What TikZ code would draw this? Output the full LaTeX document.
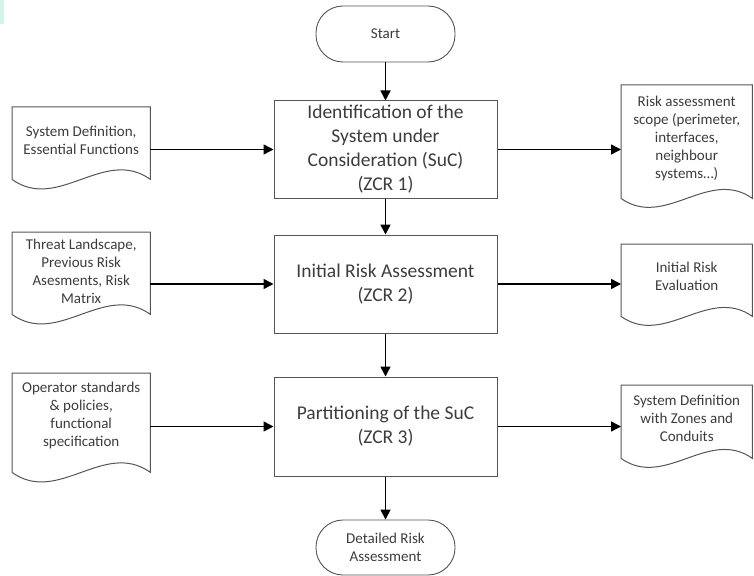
\documentclass[tikz,border=0pt]{standalone}
\usepackage{fontspec}
\setmainfont{Carlito}
\usetikzlibrary{arrows.meta,calc}
\definecolor{inkgray}{HTML}{3C3C3C}
\definecolor{edgegray}{HTML}{555555}
\definecolor{mint}{HTML}{D4F4E8}

% wavy-bottom document outline around a text node:
% #1 node name, #2 extra drop of the wave ends below the node, #3 wave control offset
\newcommand{\docoutline}[3]{%
  \draw[docline] (#1.north west) -- (#1.north east) -- ([yshift=-#2pt]#1.south east)
    .. controls ($(#1.south east)!1/3!(#1.south west)+(0pt,-#2pt+#3pt)$)
    and ($(#1.south east)!2/3!(#1.south west)+(0pt,-#2pt-#3pt)$)
    .. ([yshift=-#2pt]#1.south west) -- cycle;}

\begin{document}
\begin{tikzpicture}[x=1pt,y=-1pt,
  every node/.style={text=inkgray},
  procbox/.style={draw=edgegray, line width=1pt, minimum width=223pt,
    align=center, font=\fontsize{19.5}{24}\selectfont, inner sep=0pt},
  termbox/.style={draw=edgegray, line width=0.9pt, rounded corners=27pt,
    minimum width=139pt, align=center, font=\fontsize{15}{18}\selectfont, inner sep=0pt},
  docnode/.style={align=center, font=\fontsize{15}{18}\selectfont,
    inner sep=0pt, anchor=north west},
  docline/.style={draw=edgegray, line width=1pt},
  flow/.style={draw=black, line width=1.5pt, -{Triangle[length=10pt,width=10pt]}}
]
\useasboundingbox (0,0) rectangle (754,575);
\fill[mint] (0,0) rectangle (4,24);

% main process column
\node[termbox, minimum height=56pt] (S) at (385.5,34) {Start};
\node[procbox, minimum height=97pt] (B1) at (385.5,149.5)
  {Identification of the\\System under\\Consideration (SuC)\\(ZCR 1)};
\node[procbox, minimum height=98pt] (B2) at (385.5,284)
  {Initial Risk Assessment\\(ZCR 2)};
\node[procbox, minimum height=99pt] (B3) at (385.5,426.5)
  {Partitioning of the SuC\\(ZCR 3)};
\node[termbox, minimum height=55pt] (E) at (385.5,547.5)
  {Detailed Risk\\Assessment};

% input documents
\node[docnode, minimum width=138pt, minimum height=66pt] (L1) at (12,107)
  {System Definition,\\Essential Functions};
\node[docnode, minimum width=138pt, minimum height=78pt] (L2) at (12,232)
  {Threat Landscape,\\Previous Risk\\Asesments, Risk\\Matrix};
\node[docnode, minimum width=138pt, minimum height=85pt] (L3) at (12,373)
  {Operator standards\\\& policies,\\functional\\specification};

% output documents
\node[docnode, minimum width=131pt, minimum height=107pt] (R1) at (621,85)
  {Risk assessment\\scope (perimeter,\\interfaces,\\neighbour\\systems…)};
\node[docnode, minimum width=131pt, minimum height=64pt] (R2) at (621,244)
  {Initial Risk\\Evaluation};
\node[docnode, minimum width=131pt, minimum height=66pt] (R3) at (621,385)
  {System Definition\\with Zones and\\Conduits};

\docoutline{L1}{6}{33}
\docoutline{L2}{4}{33}
\docoutline{L3}{14}{33}
\docoutline{R1}{6}{31}
\docoutline{R2}{8}{31}
\docoutline{R3}{7}{31}

% connectors
\draw[flow] (S) -- (B1);
\draw[flow] (B1) -- (B2);
\draw[flow] (B2) -- (B3);
\draw[flow] (B3) -- (E);
\draw[flow] (B1.west -| L1.east) -- (B1.west);
\draw[flow] (B2.west -| L2.east) -- (B2.west);
\draw[flow] (B3.west -| L3.east) -- (B3.west);
\draw[flow] (B1.east) -- (B1.east -| R1.west);
\draw[flow] (B2.east) -- (B2.east -| R2.west);
\draw[flow] (B3.east) -- (B3.east -| R3.west);
\end{tikzpicture}
\end{document}
